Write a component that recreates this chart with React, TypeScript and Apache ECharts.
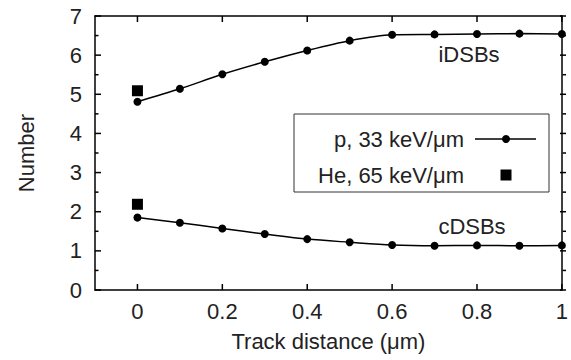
import React, { useEffect, useRef } from "react";
import * as echarts from "echarts";

const xValues = [0, 0.1, 0.2, 0.3, 0.4, 0.5, 0.6, 0.7, 0.8, 0.9, 1.0];
const iDSBs = [4.81, 5.14, 5.51, 5.83, 6.12, 6.37, 6.52, 6.53, 6.54, 6.55, 6.54];
const cDSBs = [1.85, 1.72, 1.57, 1.43, 1.3, 1.22, 1.15, 1.13, 1.14, 1.13, 1.14];
const heX = [0, 0];
const heValues = [5.09, 2.19];
const xTicks = [0, 0.2, 0.4, 0.6, 0.8, 1];
const yMajorTicks = [0, 1, 2, 3, 4, 5, 6, 7];
const yMinorTicks = [0.5, 1.5, 2.5, 3.5, 4.5, 5.5, 6.5];
const legendLabels = ["p, 33 keV/μm", "He, 65 keV/μm"];
const curveLabels = ["iDSBs", "cDSBs"];

const FONT = "Liberation Sans, Arial, sans-serif";
const FS = 22;
const TEXT = "#222";
const GRID = { left: 95, right: 5, top: 16, bottom: 70 };

function axisLineOpt() {
  return { show: true, onZero: false, lineStyle: { color: "#000", width: 1.5 } };
}

export default function App() {
  const ref = useRef<HTMLDivElement>(null);
  useEffect(() => {
    if (!ref.current) return;
    const chart = echarts.init(ref.current, undefined, { renderer: "svg" });
    const line = (vals: number[]) => xValues.map((x, i) => [x, vals[i]]);
    chart.setOption({
      animation: false,
      textStyle: { fontFamily: FONT },
      grid: { ...GRID, show: false },
      xAxis: [
        {
          type: "value",
          min: -0.1,
          max: 1,
          position: "bottom",
          name: "Track distance (μm)",
          nameLocation: "middle",
          nameGap: 40,
          nameTextStyle: { fontFamily: FONT, fontSize: FS, color: TEXT },
          axisLine: axisLineOpt(),
          axisTick: { show: false },
          axisLabel: {
            customValues: xTicks,
            fontFamily: FONT,
            fontSize: FS,
            color: TEXT,
            margin: 10,
            formatter: (v: number) => String(Math.round(v * 10) / 10),
          },
          splitLine: { show: false },
        },
        {
          type: "value",
          min: -0.1,
          max: 1,
          position: "top",
          axisLine: axisLineOpt(),
          axisTick: { show: false },
          axisLabel: { show: false },
          splitLine: { show: false },
        },
      ],
      yAxis: [
        {
          type: "value",
          min: 0,
          max: 7,
          interval: 1,
          position: "left",
          name: "Number",
          nameLocation: "middle",
          nameGap: 58,
          nameTextStyle: { fontFamily: FONT, fontSize: FS, color: TEXT },
          axisLine: axisLineOpt(),
          axisTick: { show: false },
          axisLabel: { fontFamily: FONT, fontSize: FS, color: TEXT, margin: 13 },
          splitLine: { show: false },
        },
        {
          type: "value",
          min: 0,
          max: 7,
          interval: 1,
          position: "right",
          axisLine: axisLineOpt(),
          axisTick: { show: false },
          axisLabel: { show: false },
          splitLine: { show: false },
        },
      ],
      series: [
        {
          name: curveLabels[0],
          type: "line",
          data: line(iDSBs),
          smooth: 0.3,
          symbol: "circle",
          symbolSize: 8,
          itemStyle: { color: "#000", opacity: 1 },
          lineStyle: { color: "#000", width: 1.5 },
        },
        {
          name: curveLabels[1],
          type: "line",
          data: line(cDSBs),
          smooth: 0.3,
          symbol: "circle",
          symbolSize: 8,
          itemStyle: { color: "#000", opacity: 1 },
          lineStyle: { color: "#000", width: 1.5 },
        },
        {
          name: legendLabels[1],
          type: "scatter",
          data: heX.map((x, i) => [x, heValues[i]]),
          symbol: "rect",
          symbolSize: 11,
          itemStyle: { color: "#000", opacity: 1 },
        },
      ],
    });

    // Tick marks on all four sides, placed through the chart's own scales.
    const W = ref.current.clientWidth;
    const H = ref.current.clientHeight;
    const leftX = GRID.left;
    const rightX = W - GRID.right;
    const topY = GRID.top;
    const bottomY = H - GRID.bottom;
    const tickStyle = { stroke: "#000", lineWidth: 1.5 };
    const ticks: any[] = [];
    const yTick = (v: number, len: number) => {
      const py = chart.convertToPixel({ xAxisIndex: 0, yAxisIndex: 0 }, [0, v])[1];
      ticks.push({ type: "line", z: 100, shape: { x1: leftX, y1: py, x2: leftX + len, y2: py }, style: tickStyle });
      ticks.push({ type: "line", z: 100, shape: { x1: rightX, y1: py, x2: rightX - len, y2: py }, style: tickStyle });
    };
    yMajorTicks.forEach((v) => yTick(v, 6));
    yMinorTicks.forEach((v) => yTick(v, 3.5));
    xTicks.forEach((v) => {
      const px = chart.convertToPixel({ xAxisIndex: 0, yAxisIndex: 0 }, [v, 0])[0];
      ticks.push({ type: "line", z: 100, shape: { x1: px, y1: bottomY, x2: px, y2: bottomY - 6 }, style: tickStyle });
      ticks.push({ type: "line", z: 100, shape: { x1: px, y1: topY, x2: px, y2: topY + 6 }, style: tickStyle });
    });

    chart.setOption({
      graphic: [
        ...ticks,
        {
          type: "text",
          x: 469,
          y: 54,
          style: { text: curveLabels[0], font: `${FS}px ${FONT}`, fill: TEXT, align: "center", verticalAlign: "middle" },
        },
        {
          type: "text",
          x: 472,
          y: 226,
          style: { text: curveLabels[1], font: `${FS}px ${FONT}`, fill: TEXT, align: "center", verticalAlign: "middle" },
        },
        {
          type: "rect",
          shape: { x: 294, y: 114, width: 255, height: 78 },
          style: { fill: "#fff", stroke: "#333", lineWidth: 1 },
        },
        {
          type: "text",
          x: 464,
          y: 139,
          style: { text: legendLabels[0], font: `${FS}px ${FONT}`, fill: TEXT, align: "right", verticalAlign: "middle" },
        },
        {
          type: "text",
          x: 464,
          y: 175,
          style: { text: legendLabels[1], font: `${FS}px ${FONT}`, fill: TEXT, align: "right", verticalAlign: "middle" },
        },
        {
          type: "line",
          shape: { x1: 475, y1: 139, x2: 536, y2: 139 },
          style: { stroke: "#000", lineWidth: 1.5 },
        },
        {
          type: "circle",
          shape: { cx: 506, cy: 139, r: 4 },
          style: { fill: "#000" },
        },
        {
          type: "rect",
          shape: { x: 500.5, y: 169.5, width: 11, height: 11 },
          style: { fill: "#000" },
        },
      ],
    });
    return () => chart.dispose();
  }, []);
  return (
    <div
      ref={ref}
      style={{ position: "fixed", left: 0, top: 0, width: 571, height: 360, background: "#fff" }}
    />
  );
}
